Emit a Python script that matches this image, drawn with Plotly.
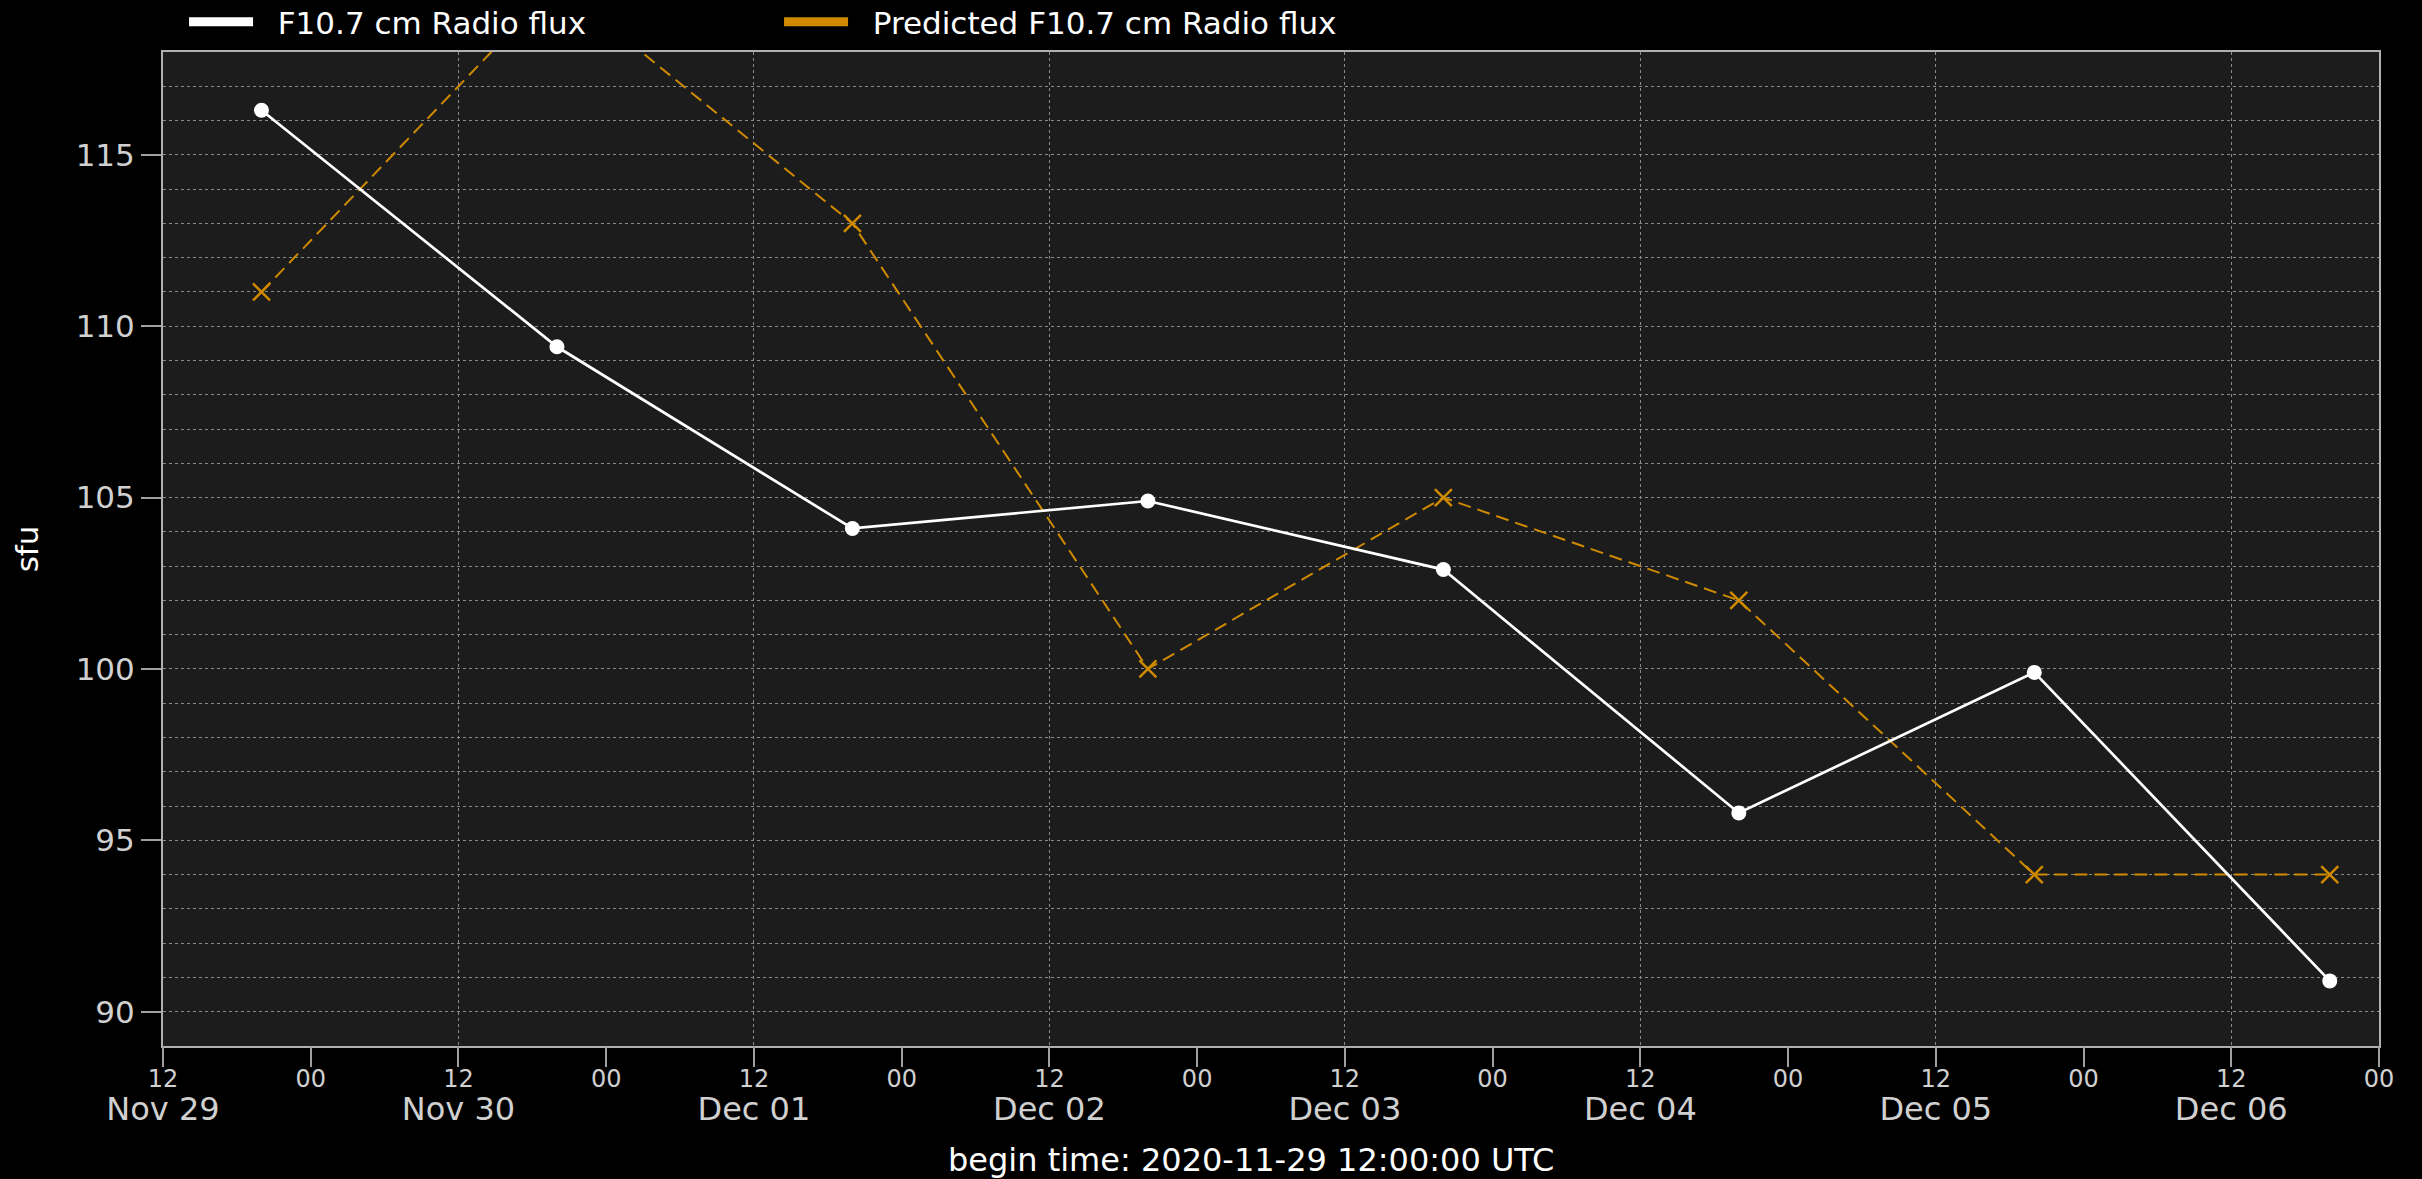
import plotly.graph_objects as go
import pandas as pd

# daily F10.7 readings (20:00 UTC)
dates = ["2020-11-29 20:00", "2020-11-30 20:00", "2020-12-01 20:00", "2020-12-02 20:00",
         "2020-12-03 20:00", "2020-12-04 20:00", "2020-12-05 20:00", "2020-12-06 20:00"]
observed = [116.3, 109.4, 104.1, 104.9, 102.9, 95.8, 99.9, 90.9]
predicted = [111, 120, 113, 100, 105, 102, 94, 94]

x_start = "2020-11-29 12:00"
x_end = "2020-12-07 00:00"
day_ticks = pd.date_range("2020-11-29 12:00", periods=8, freq="D")
hour_ticks = pd.date_range("2020-11-29 12:00", "2020-12-07 00:00", freq="12h")
y_ticks = [90, 95, 100, 105, 110, 115]

WHITE = "#ffffff"
ORANGE = "#cf8a00"
FONT = "DejaVu Sans"
NBSP = "\u00a0\u00a0"

day_text = [d.strftime("%b %d") for d in day_ticks]
hour_text = [d.strftime("%H") for d in hour_ticks]

fig = go.Figure()

fig.add_trace(go.Scatter(
    x=dates, y=predicted, mode="lines+markers", showlegend=False,
    line=dict(color=ORANGE, width=2, dash="13px,7px"),
    marker=dict(symbol="x-thin", size=17, line=dict(color=ORANGE, width=2.5)),
))
fig.add_trace(go.Scatter(
    x=dates, y=observed, mode="lines+markers", showlegend=False,
    line=dict(color=WHITE, width=2.7),
    marker=dict(symbol="circle", size=15, color=WHITE),
))

# legend entries with thick lines
fig.add_trace(go.Scatter(x=[None], y=[None], mode="lines", name=NBSP + "F10.7 cm Radio flux",
                         line=dict(color=WHITE, width=9)))
fig.add_trace(go.Scatter(x=[None], y=[None], mode="lines", name=NBSP + "Predicted F10.7 cm Radio flux",
                         line=dict(color=ORANGE, width=9)))

# second x axis carries the hour labels
fig.add_trace(go.Scatter(x=[dates[0]], y=[None], xaxis="x2", showlegend=False,
                         hoverinfo="skip", mode="markers"))

fig.update_layout(
    width=2422, height=1179,
    margin=dict(l=163, r=43, t=52, b=133, autoexpand=False),
    paper_bgcolor="#000000",
    plot_bgcolor="#1c1c1c",
    font=dict(family=FONT, size=31, color=WHITE),
    legend=dict(
        orientation="h", x=0.0095, xanchor="left", y=1.03, yanchor="middle",
        font=dict(size=31, color=WHITE), itemwidth=64, entrywidth=516,
        bgcolor="rgba(0,0,0,0)",
    ),
    xaxis=dict(
        range=[x_start, x_end], type="date", automargin=False,
        tickvals=day_ticks, ticktext=day_text,
        tickfont=dict(size=32, color="#d0d0d0"),
        ticks="", ticklabelstandoff=34,
        showgrid=True, gridcolor="#8a8a8a", gridwidth=1, griddash="3px,3px",
        showline=True, linecolor="#b0b0b0", linewidth=2, mirror=True,
        zeroline=False,
    ),
    xaxis2=dict(
        range=[x_start, x_end], type="date", overlaying="x", anchor="y", side="bottom",
        tickvals=hour_ticks, ticktext=hour_text, automargin=False,
        tickfont=dict(size=24, color="#d0d0d0"),
        ticks="outside", ticklen=20, tickwidth=2, tickcolor="#a0a0a0",
        ticklabelstandoff=-9,
        showgrid=False, showline=False, zeroline=False,
    ),
    yaxis=dict(
        range=[89, 118], automargin=False,
        tickvals=y_ticks,
        tickfont=dict(size=31, color="#d0d0d0"),
        ticks="outside", ticklen=20, tickwidth=2, tickcolor="#a0a0a0",
        ticklabelstandoff=0,
        showgrid=True, gridcolor="#8a8a8a", gridwidth=1, griddash="dot",
        minor=dict(dtick=1, showgrid=True, gridcolor="#8a8a8a", gridwidth=1, griddash="dot"),
        showline=True, linecolor="#b0b0b0", linewidth=2, mirror=True,
        zeroline=False,
        title=dict(text="sfu", font=dict(size=31, color=WHITE), standoff=28),
    ),
)

fig.add_annotation(
    text="begin time: 2020-11-29 12:00:00 UTC",
    xref="paper", yref="paper", x=0.491, y=-0.1147,
    xanchor="center", yanchor="middle", showarrow=False,
    font=dict(size=32, color=WHITE),
)

# drop the default page margin so the figure fills the window
fig.write_html("out.html", config={"displayModeBar": False},
               post_script="document.body.style.margin = '0';")
